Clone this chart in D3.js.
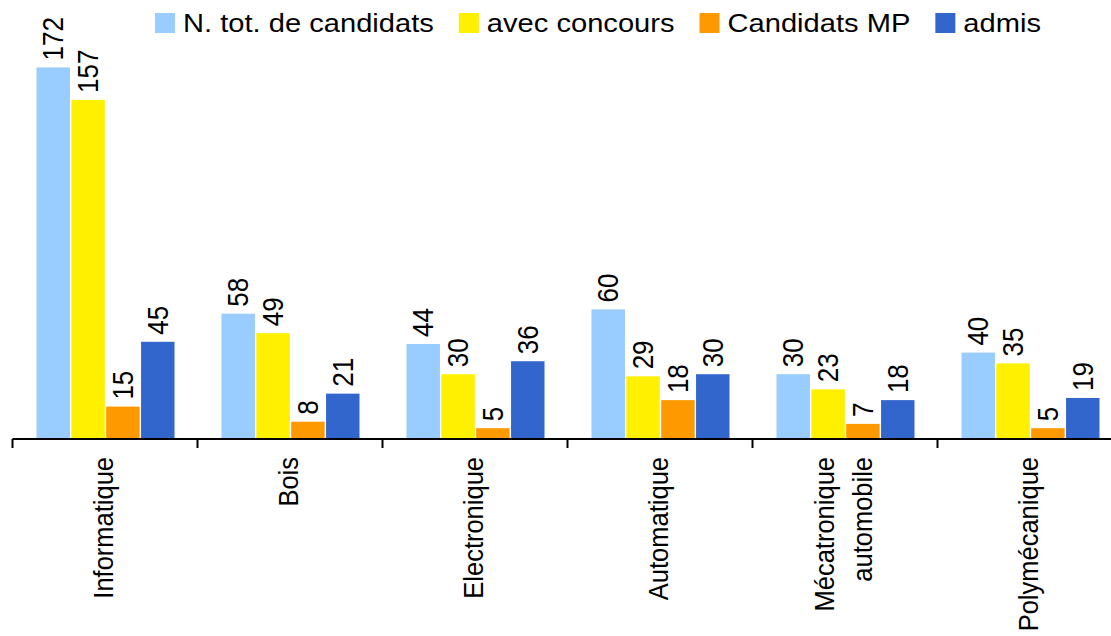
<!DOCTYPE html>
<html>
<head>
<meta charset="utf-8">
<script src="https://cdn.jsdelivr.net/npm/d3@7"></script>
<style>
  html, body { margin: 0; padding: 0; background: #fff; }
  svg { display: block; font-family: Arial, "Liberation Sans", sans-serif; }
</style>
</head>
<body>
<div id="chart"></div>
<script>
// Data
const categories = ['Informatique', 'Bois', 'Electronique', 'Automatique', 'Mécatronique\nautomobile', 'Polymécanique'];
const seriesNames = ['N. tot. de candidats', 'avec concours', 'Candidats MP', 'admis'];
const totCandidats = [172, 58, 44, 60, 30, 40];
const avecConcours = [157, 49, 30, 29, 23, 35];
const candidatsMP = [15, 8, 5, 18, 7, 5];
const admis = [45, 21, 36, 30, 18, 19];
const seriesValues = [totCandidats, avecConcours, candidatsMP, admis];
const colors = ['#99ccff', '#fff000', '#ff9900', '#3366cc'];

(function main(){
  const width = 1111, height = 636;
  const baseY = 439;
  const sx = 1.1; // text in the original is slightly wider than tall

  const svg = d3.select('#chart').append('svg')
    .attr('width', width).attr('height', height);

  const x0 = d3.scaleBand().domain(d3.range(categories.length)).range([12.5, 12.5 + 185 * 6]);
  const x1 = d3.scaleBand().domain(d3.range(seriesNames.length)).range([24, 162]).paddingInner(0.04);
  const y = d3.scaleLinear().domain([0, 180]).range([baseY, baseY - 2.16 * 180]);

  // Bars
  const groups = svg.append('g').selectAll('g.grp')
    .data(categories.map((c, i) => ({ c, i })))
    .join('g')
    .attr('class', 'grp')
    .attr('transform', d => `translate(${x0(d.i)},0)`);

  const bars = groups.selectAll('g.bar')
    .data(d => seriesValues.map((vals, s) => ({ s, v: vals[d.i] })))
    .join('g').attr('class', 'bar');

  bars.append('rect')
    .attr('x', d => x1(d.s))
    .attr('width', x1.bandwidth())
    .attr('y', d => y(d.v))
    .attr('height', d => y(0) - y(d.v))
    .attr('fill', d => colors[d.s]);

  bars.append('text')
    .attr('transform', d => `translate(${x1(d.s) + x1.bandwidth() / 2},${y(d.v) - 7}) scale(${sx},1) rotate(-90)`)
    .attr('dy', '0.35em')
    .attr('text-anchor', 'start')
    .style('font-size', '26px')
    .style('fill', '#000')
    .text(d => d.v);

  // X axis
  const axis = svg.append('g').attr('transform', `translate(0,${baseY})`);
  axis.append('line')
    .attr('x1', x0.range()[0]).attr('x2', x0.range()[1])
    .attr('stroke', '#000').attr('stroke-width', 2);
  axis.selectAll('line.tick')
    .data(d3.range(categories.length + 1))
    .join('line')
    .attr('class', 'tick')
    .attr('x1', i => x0.range()[0] + i * x0.step())
    .attr('x2', i => x0.range()[0] + i * x0.step())
    .attr('y1', 0).attr('y2', 9)
    .attr('stroke', '#000').attr('stroke-width', 2);

  const catLabels = axis.selectAll('text.cat')
    .data(categories.map((c, i) => ({ lines: c.split('\n'), i })))
    .join('text')
    .attr('class', 'cat')
    .attr('transform', d => `translate(${x0(d.i) + x0.bandwidth() / 2 - 2},18) scale(${sx},1) rotate(-90)`)
    .attr('text-anchor', 'end')
    .style('font-size', '25.5px')
    .style('fill', '#000');
  catLabels.selectAll('tspan')
    .data(d => d.lines.map((t, k) => ({ t, k, n: d.lines.length })))
    .join('tspan')
    .attr('x', 0)
    .attr('y', d => (d.k - (d.n - 1) / 2) * 34)
    .attr('dy', '0.35em')
    .text(d => d.t);

  // Legend
  const legend = svg.append('g').attr('transform', 'translate(155,13)');
  let lx = 0;
  seriesNames.forEach((name, i) => {
    const g = legend.append('g').attr('transform', `translate(${lx},0)`);
    g.append('rect').attr('width', 20).attr('height', 20).attr('fill', colors[i]);
    const t = g.append('text')
      .attr('transform', `translate(28,10) scale(${sx + 0.02},1)`)
      .attr('dy', '0.35em')
      .style('font-size', '26px').style('fill', '#000')
      .text(name);
    lx += 28 + t.node().getComputedTextLength() * (sx + 0.02) + 25;
  });
})();
</script>
</body>
</html>
